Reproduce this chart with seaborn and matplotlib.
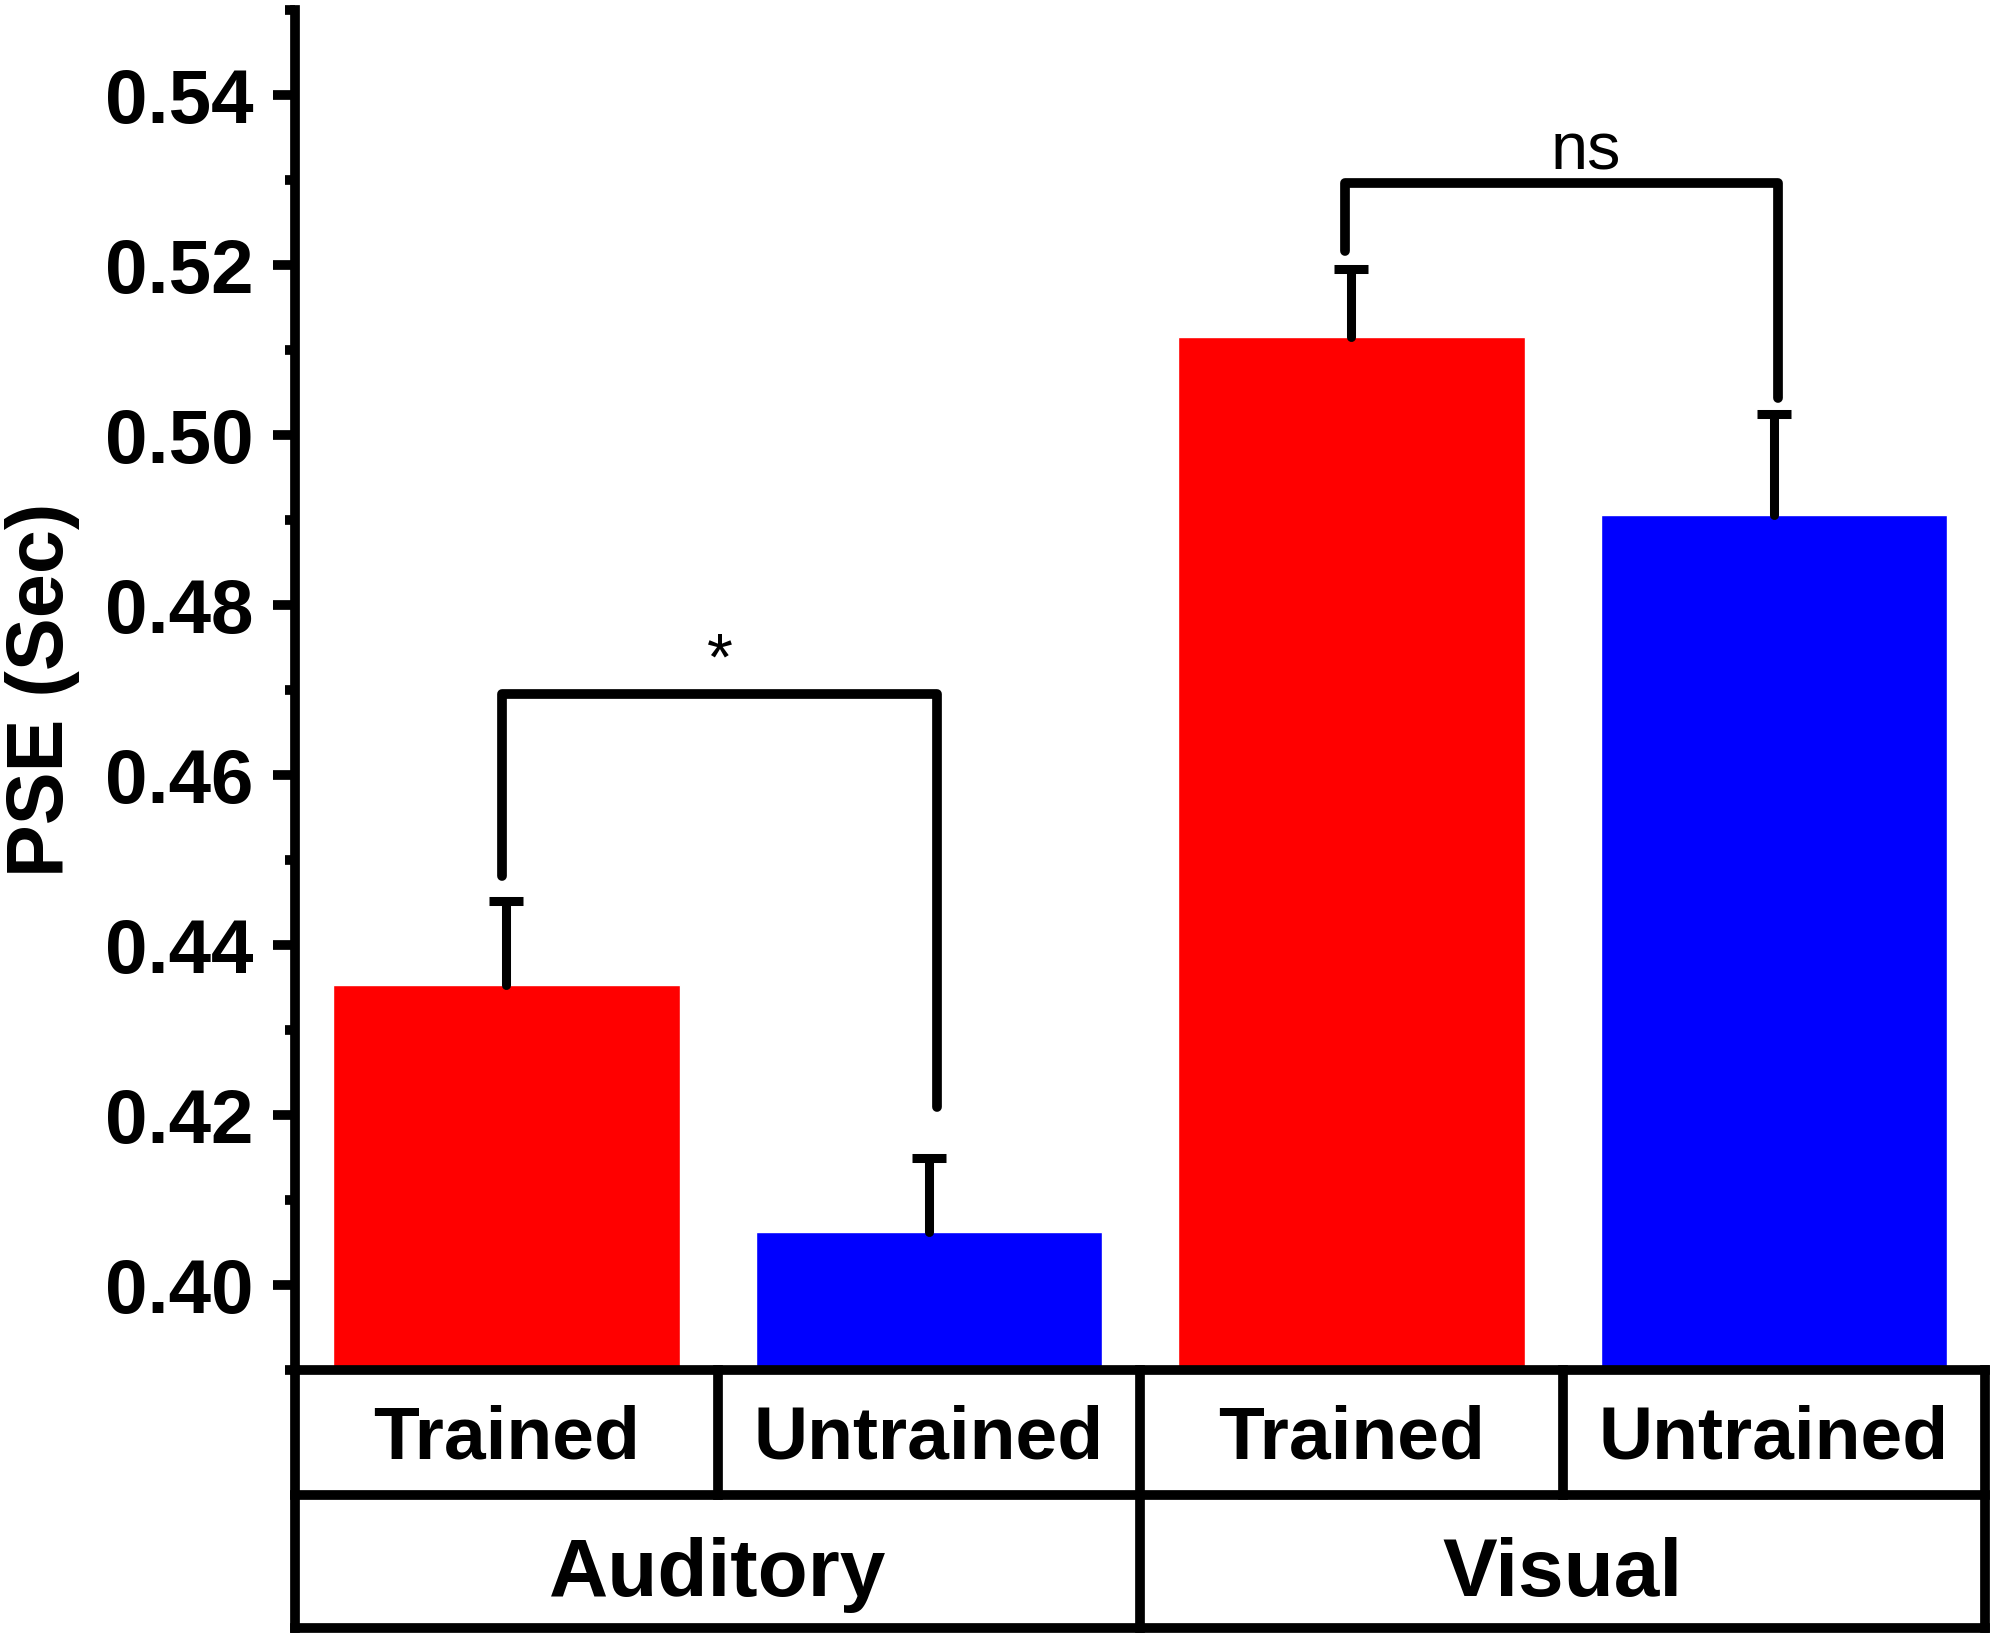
import numpy as np
import pandas as pd
import matplotlib
matplotlib.use('Agg')
import matplotlib.pyplot as plt
import seaborn as sns
from matplotlib.ticker import MultipleLocator

# bar values
modalities = ['Auditory', 'Auditory', 'Visual', 'Visual']
conditions = ['Trained', 'Untrained', 'Trained', 'Untrained']
pse_mean = [0.4353, 0.4063, 0.5116, 0.4906]
pse_se = [0.0099, 0.0087, 0.0080, 0.0119]
bar_colors = ['#FF0000', '#0000FF', '#FF0000', '#0000FF']

# significance brackets:
# (left x, right x, left foot, right foot, top, label, label x, label baseline)
brackets = [
    (-0.01, 1.02, 0.4481, 0.4210, 0.4696, '*', 0.505, 0.4712),
    (1.985, 3.01, 0.5217, 0.5044, 0.5297, 'ns', 2.555, 0.5313),
]

sns.set_style('ticks')
plt.rcParams['font.family'] = ['Liberation Sans', 'DejaVu Sans']
plt.rcParams.update({'text.color': 'black', 'axes.labelcolor': 'black',
                     'xtick.color': 'black', 'ytick.color': 'black',
                     'axes.edgecolor': 'black'})

df = pd.DataFrame({
    'group': [f'{m} {c}' for m, c in zip(modalities, conditions)],
    'PSE': pse_mean,
})

fig = plt.figure(figsize=(19.95, 16.45), dpi=100)
ax = fig.add_axes([0.148, 0.1671, 0.847, 0.8267])

sns.barplot(data=df, x='group', y='PSE', hue='group', palette=bar_colors,
            width=0.82, errorbar=None, legend=False, saturation=1, ax=ax)

xs = np.arange(len(pse_mean))
eb = ax.errorbar(xs, pse_mean, yerr=[np.zeros(len(pse_se)), pse_se], fmt='none',
                 ecolor='black', elinewidth=6.5, capsize=12, capthick=6.5, zorder=3)
# only the upper cap, like the original
eb[1][0].set_visible(False)
eb[2][0].set_capstyle('round')

ax.set_xlim(-0.5, 3.5)
ax.set_ylim(0.39, 0.55)
ax.yaxis.set_minor_locator(MultipleLocator(0.01))
yt = [0.40, 0.42, 0.44, 0.46, 0.48, 0.50, 0.52, 0.54]
ax.set_yticks(yt)
ax.set_yticklabels([f'{v:.2f}' for v in yt])
ax.tick_params(axis='y', which='major', direction='out', length=16, width=7,
               pad=14, labelsize=55)
ax.tick_params(axis='y', which='minor', direction='out', length=7, width=7)
for lab in ax.get_yticklabels():
    lab.set_fontweight('bold')
ax.set_xticks([])
ax.set_xlabel('')
ax.set_ylabel('PSE (Sec)', fontsize=57, fontweight='bold', labelpad=18)

for side in ['top', 'right', 'bottom']:
    ax.spines[side].set_visible(False)
ax.spines['left'].set_linewidth(7)

# brackets and labels
for xl, xr, yl, yr, ytop, lab, xlab, ylab in brackets:
    ax.plot([xl, xl, xr, xr], [yl, ytop, ytop, yr], color='black',
            lw=7, solid_capstyle='round', solid_joinstyle='round', zorder=4)
    ax.text(xlab, ylab, lab, ha='center', va='baseline', fontsize=48)

# category table under the bars
trans = ax.get_xaxis_transform()
r1, r2 = -0.0917, -0.1899
kw = dict(color='black', lw=7, transform=trans, clip_on=False,
          solid_capstyle='projecting')
ax.plot([-0.5, 3.5], [0, 0], **kw)
ax.plot([-0.5, 3.5], [r1, r1], **kw)
ax.plot([-0.5, 3.5], [r2, r2], **kw)
ax.plot([-0.5, -0.5], [0, r2], **kw)
ax.plot([3.5, 3.5], [0, r2], **kw)
ax.plot([1.5, 1.5], [0, r2], **kw)
for xv in [0.5, 2.5]:
    ax.plot([xv, xv], [0, r1], **kw)

for x, c in zip(xs, conditions):
    ax.text(x, (0 + r1) / 2 - 0.005, c, transform=trans, ha='center', va='center',
            fontsize=54, fontweight='bold')
for x, m in [(0.5, 'Auditory'), (2.5, 'Visual')]:
    ax.text(x, (r1 + r2) / 2 - 0.0095, m, transform=trans, ha='center',
            va='center', fontsize=59, fontweight='bold')

plt.savefig('out.png', dpi=100)
